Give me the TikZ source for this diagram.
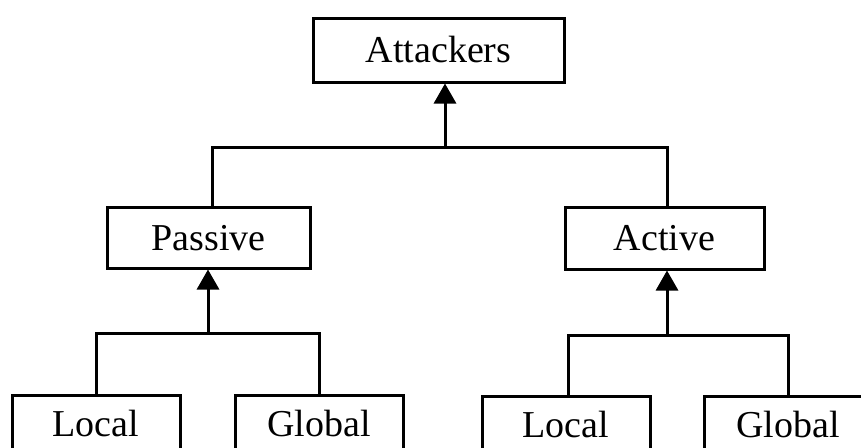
\documentclass[tikz,border=0pt]{standalone}
\usepackage{fontspec}
\setmainfont{Liberation Serif}
\usetikzlibrary{arrows.meta}
\tikzset{
  box/.style={draw, line width=3pt, inner sep=0pt, font=\fontsize{38}{42}\selectfont},
  topbox/.style={box, text height=25pt, text depth=0pt},
  lowbox/.style={box, anchor=north, minimum width=168pt, inner ysep=10pt, text height=31pt, text depth=22pt},
  conn/.style={line width=3pt},
  arr/.style={line width=3pt, -{Triangle[length=20pt,width=22pt]}}
}
\begin{document}
\begin{tikzpicture}[x=1pt,y=-1pt]
\clip (0,0) rectangle (861,447);
\useasboundingbox (0,0) rectangle (861,447);
\node[topbox, minimum width=251pt, minimum height=64pt] (att) at (438.5,50) {Attackers};
\node[topbox, minimum width=203pt, minimum height=61pt] (pas) at (208.5,237.5) {Passive};
\node[topbox, minimum width=199pt, minimum height=62pt] (act) at (664.5,238) {Active};
\node[lowbox] (lloc) at (96,394) {Local};
\node[lowbox] (lglob) at (319,394) {Global};
\node[lowbox] (rloc) at (566,395) {Local};
\node[lowbox] (rglob) at (788,395) {Global};
\coordinate (j1) at (445,147);
\coordinate (j2) at (208,333);
\coordinate (j3) at (667,335);
\draw[conn] ([xshift=3.5pt]pas.north) |- (j1) -| ([xshift=2.5pt]act.north);
\draw[arr] (j1) -- (att.south -| j1);
\draw[conn] (lloc.north) |- (j2) -| (lglob.north);
\draw[arr] (j2) -- (pas.south -| j2);
\draw[conn] ([xshift=2pt]rloc.north) |- (j3) -| (rglob.north);
\draw[arr] (j3) -- (act.south -| j3);
\end{tikzpicture}
\end{document}
